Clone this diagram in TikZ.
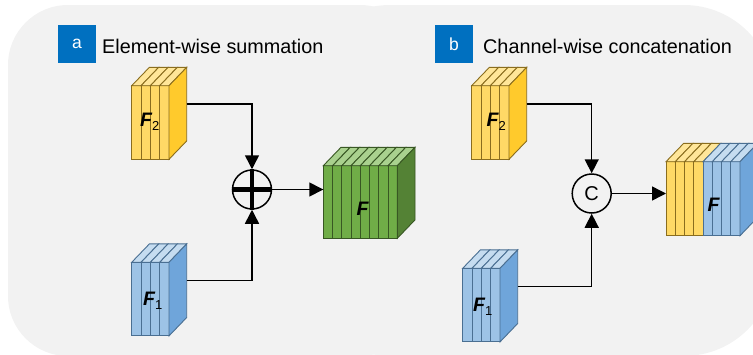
\documentclass[tikz,border=0pt]{standalone}
\usepackage{fontspec}
\setmainfont{Liberation Sans}
\usetikzlibrary{arrows.meta,calc}
\definecolor{bg}{HTML}{F2F2F2}
\definecolor{lblue}{HTML}{0070C0}
\definecolor{yf}{HTML}{FFD966}
\definecolor{yt}{HTML}{FFE699}
\definecolor{ys}{HTML}{FFCA2C}
\definecolor{yb}{HTML}{8A6D1E}
\definecolor{bf}{HTML}{9DC3E6}
\definecolor{bt}{HTML}{C5DCF0}
\definecolor{bs}{HTML}{6FA5DA}
\definecolor{bb}{HTML}{4A6F92}
\definecolor{gf}{HTML}{70AD47}
\definecolor{gt}{HTML}{A9D18E}
\definecolor{gs}{HTML}{548235}
\definecolor{gb}{HTML}{385723}
\newcommand\fsubtxt[1]{\raisebox{-4pt}{\normalfont\fontsize{13}{15}\selectfont #1}}
\tikzset{
  cubeline/.style={line width=0.9pt},
  conn/.style={line width=1.5pt, -{Triangle[length=14pt,width=14pt]}},
  opcircle/.style={circle, draw, line width=1.5pt, minimum size=39pt, inner sep=0pt},
  lbox/.style={fill=lblue, minimum size=38pt, inner sep=0pt, text=white, font=\fontsize{17.5}{20}\selectfont},
  heading/.style={anchor=base west, inner sep=0pt, font=\fontsize{19.8}{24}\selectfont},
  flabel/.style={inner sep=0pt, anchor=base west, font=\fontsize{19.5}{22}\selectfont\bfseries\itshape},
}
% #1 name, #2 x, #3 y, #4 total width, #5 height, #6 n slices, #7 slices fc/tc/bc, #8 side fill, #9 side border
\newcommand\featcube[9]{%
  \foreach \fc/\tc/\bc [count=\i from 0] in {#7} {%
    \pgfmathsetmacro\xa{#2+\i*#4/#6}%
    \pgfmathsetmacro\xb{#2+(\i+1)*#4/#6}%
    \filldraw[fill=\fc, draw=\bc, cubeline] (\xa,#3) rectangle (\xb,#3+#5);
    \filldraw[fill=\tc, draw=\bc, cubeline] (\xa,#3) -- (\xa+17.7,#3-18.4) -- (\xb+17.7,#3-18.4) -- (\xb,#3) -- cycle;
  }
  \filldraw[fill=#8, draw=#9, cubeline] (#2+#4,#3) -- ++(17.7,-18.4) -- ++(0,#5) -- (#2+#4,#3+#5) -- cycle;
  \node[inner sep=0pt, outer sep=0pt, minimum width=#4pt, minimum height=#5pt, anchor=north west] (#1) at (#2,#3) {};
  \coordinate (#1-out) at ($(#1.east)+(17.7,-18.4)$);
}
\begin{document}
\begin{tikzpicture}[x=1pt,y=-1pt]
\useasboundingbox (0,0) rectangle (753,354);
% background panel
\fill[bg, rounded corners=60pt] (8,5) rectangle (420,356);
\fill[bg, rounded corners=90pt] (300,5) rectangle (774,356);

% ---- panel a ----
\node[lbox] (boxa) at (77,44) {a};
\node[heading] (heada) at (102,53.3) {Element-wise summation};

\featcube{f2a}{131.7}{85.7}{37.3}{73.6}{4}{yf/yt/yb,yf/yt/yb,yf/yt/yb,yf/yt/yb}{ys}{yb}
\featcube{f1a}{131.7}{262.3}{37.3}{73.6}{4}{bf/bt/bb,bf/bt/bb,bf/bt/bb,bf/bt/bb}{bs}{bb}
\featcube{fsum}{323.3}{165.7}{74}{72.6}{8}{gf/gt/gb,gf/gt/gb,gf/gt/gb,gf/gt/gb,gf/gt/gb,gf/gt/gb,gf/gt/gb,gf/gt/gb}{gs}{gb}

\node[flabel] (lf2a) at (140,126) {F\fsubtxt{2}};
\node[flabel] (lf1a) at (143,305.3) {F\fsubtxt{1}};
\node[flabel] (lfsum) at (356.5,215.2) {F};

\node[opcircle] (plus) at (252,189.5) {};
\draw[line width=4.5pt] (plus.north) -- (plus.south);
\draw[line width=4.5pt] (plus.west) -- (plus.east);

\draw[conn] (f2a-out) -| (plus.north);
\draw[conn] (f1a-out) -| (plus.south);
\draw[conn] (plus.east) -- (plus.east -| fsum.west);

% ---- panel b ----
\node[lbox] (boxb) at (454,44) {b};
\node[heading] (headb) at (483,53.3) {Channel-wise concatenation};

\featcube{f2b}{471.7}{85.7}{37.3}{73.6}{4}{yf/yt/yb,yf/yt/yb,yf/yt/yb,yf/yt/yb}{ys}{yb}
\featcube{f1b}{462.7}{268.3}{37.3}{73.6}{4}{bf/bt/bb,bf/bt/bb,bf/bt/bb,bf/bt/bb}{bs}{bb}
\featcube{fcat}{666}{161.7}{74}{74}{8}{yf/yt/yb,yf/yt/yb,yf/yt/yb,yf/yt/yb,bf/bt/bb,bf/bt/bb,bf/bt/bb,bf/bt/bb}{bs}{bb}

\node[flabel] (lf2b) at (486.5,126) {F\fsubtxt{2}};
\node[flabel] (lf1b) at (473,311.5) {F\fsubtxt{1}};
\node[flabel] (lfcat) at (707.3,211.1) {F};

\node[opcircle, font=\fontsize{20}{24}\selectfont] (cat) at (591.7,193.5) {C};

\draw[conn] (f2b-out) -| (cat.north);
\draw[conn] (f1b-out) -| (cat.south);
\draw[conn] (cat.east) -- (cat.east -| fcat.west);
\end{tikzpicture}
\end{document}
